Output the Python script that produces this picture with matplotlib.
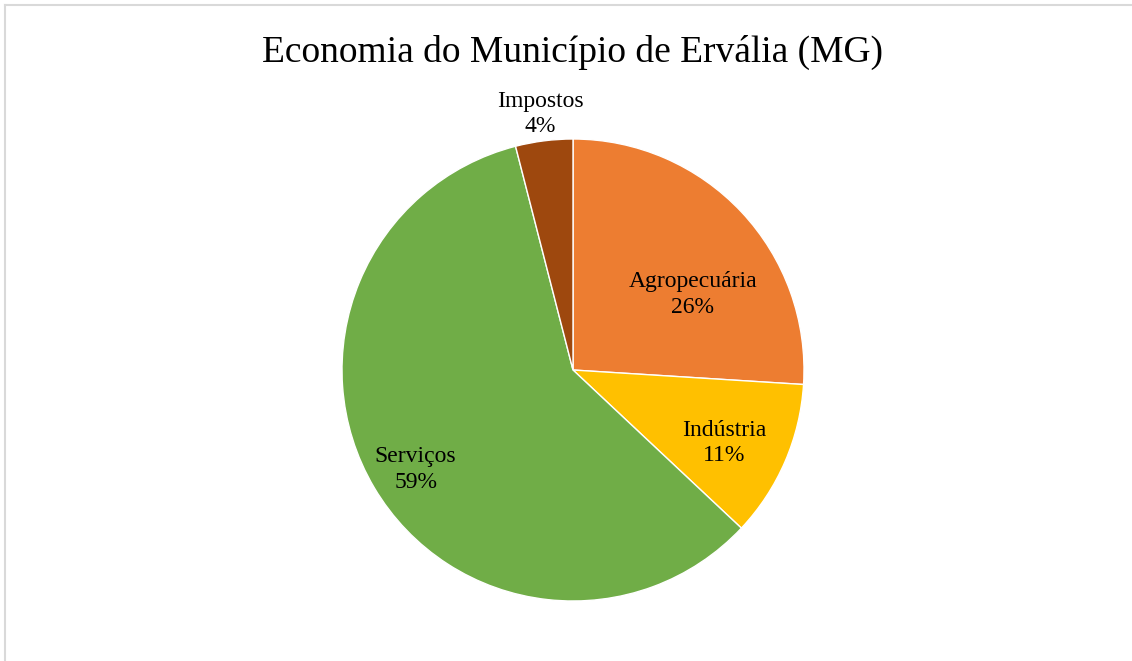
import numpy as np
import matplotlib.pyplot as plt
from matplotlib.lines import Line2D

# ── Data ──────────────────────────────────────────────────────────────────────
SECTORS = ["Agropecuária", "Indústria", "Serviços", "Impostos"]
SHARES  = [26, 11, 59, 4]
COLORS  = ["#ED7D31", "#FFC000", "#70AD47", "#9E480E"]

# label placement: radial distance and angle tweak (deg) per slice
LABEL_DIST   = [0.62, 0.72, 0.80, 1.13]
LABEL_ANGOFF = [-10.0, -1.5, 1.0, 0.0]

plt.rcParams["font.family"] = ["Liberation Serif", "DejaVu Serif"]

W, H = 1132, 661
fig = plt.figure(figsize=(W / 100, H / 100), dpi=100)

# pie centre (573, 370) px, radius 231 px
cx, cy, r = 573, 370, 231
ax = fig.add_axes([(cx - r) / W, (H - cy - r) / H, 2 * r / W, 2 * r / H])

wedges, _ = ax.pie(SHARES, colors=COLORS, startangle=90, counterclock=False,
                   wedgeprops=dict(linewidth=1.0, edgecolor="white"))
ax.set_xlim(-1, 1); ax.set_ylim(-1, 1)
ax.set_aspect("equal")
ax.axis("off")

dy = -3 / r   # nudge labels ~3 px down
for w, name, val, d, off in zip(wedges, SECTORS, SHARES, LABEL_DIST, LABEL_ANGOFF):
    mid = np.deg2rad((w.theta1 + w.theta2) / 2 + off)
    ax.text(d * np.cos(mid), d * np.sin(mid) + dy, f"{name}\n{val}%",
            ha="center", va="center", fontsize=17, linespacing=1.3,
            color="#000000", clip_on=False)

fig.text(573 / W, 1 - 52 / H, "Economia do Município de Ervália (MG)",
         ha="center", va="center", fontsize=27)

# light chart-area border (only top/left visible in the crop)
fig.add_artist(Line2D([5 / W, 5 / W], [0, 1 - 5 / H], transform=fig.transFigure,
                      color="#D9D9D9", lw=1.5))
fig.add_artist(Line2D([5 / W, 1], [1 - 5 / H, 1 - 5 / H], transform=fig.transFigure,
                      color="#D9D9D9", lw=1.5))

fig.savefig("out.png", dpi=100, facecolor="white")
